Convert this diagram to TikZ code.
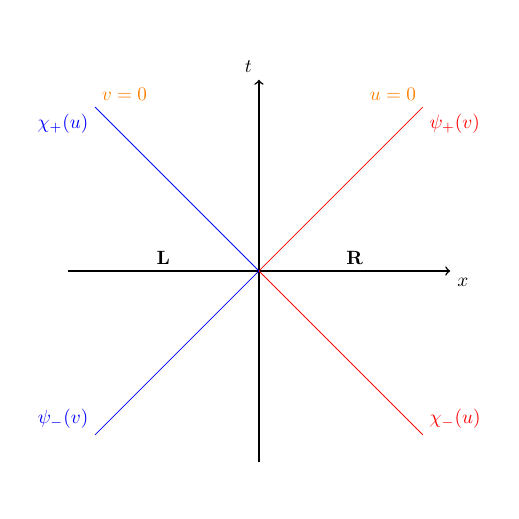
\documentclass[tikz,border=0pt]{standalone}
\begin{document}
\begin{tikzpicture}[axis/.style={thick,->},ray/.style={thin}]
\useasboundingbox (-4.74,-4.54) rectangle (4.75,4.96);
\coordinate (O) at (0,0);
\coordinate (xl) at (-3.5,0);
\coordinate (xr) at (3.5,0);
\coordinate (tb) at (0,-3.5);
\coordinate (tt) at (0,3.5);
\draw[axis] (xl) -- (xr) node[below right] {$x$};
\draw[axis] (tb) -- (tt) node[above left] {$t$};
\coordinate (ur) at (3,3);
\coordinate (ul) at (-3,3);
\coordinate (dl) at (-3,-3);
\coordinate (dr) at (3,-3);
\draw[ray,red] (O) -- (ur);
\draw[ray,red] (O) -- (dr);
\draw[ray,blue] (O) -- (ul);
\draw[ray,blue] (O) -- (dl);
\node[above right,orange] (v0) at (ul) {$v=0$};
\node[above left,orange] (u0) at (ur) {$u=0$};
\node[below left,blue] (chip) at (ul) {$\chi_+(u)$};
\node[below right,red] (psip) at (ur) {$\psi_+(v)$};
\node[above left,blue] (psim) at (dl) {$\psi_-(v)$};
\node[above right,red] (chim) at (dr) {$\chi_-(u)$};
\node[above] (L) at (-1.75,0) {$\mathbf{L}$};
\node[above] (R) at (1.75,0) {$\mathbf{R}$};
\end{tikzpicture}
\end{document}
